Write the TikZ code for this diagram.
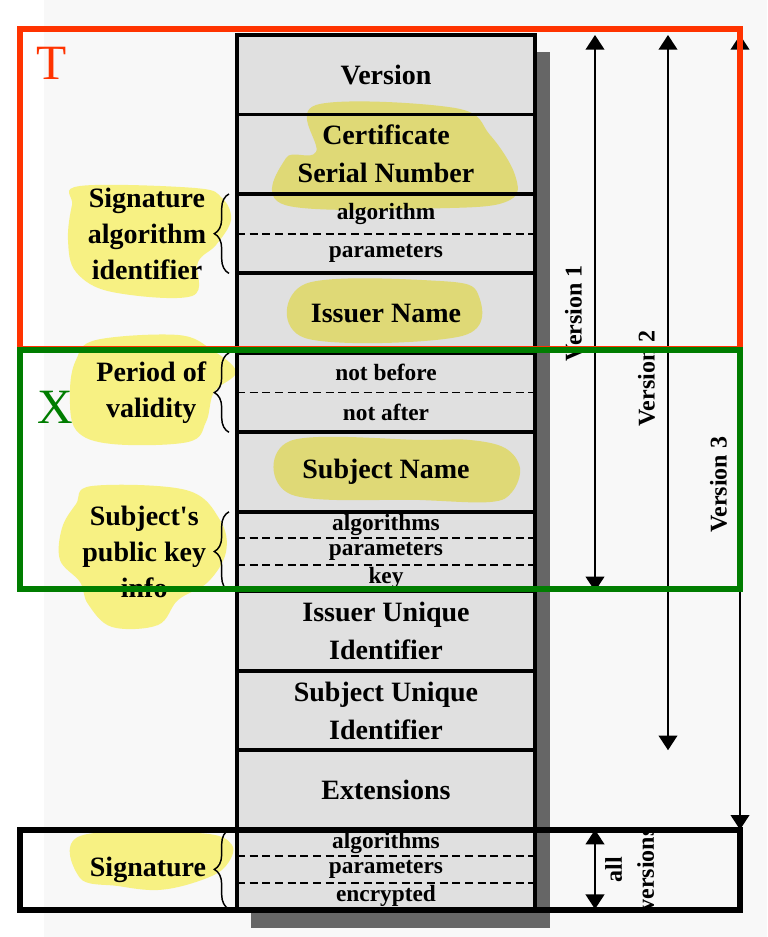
\documentclass[tikz,border=0pt]{standalone}
\usepackage{fontspec}
\setmainfont{Liberation Serif}
\usepackage{tikz}
\usetikzlibrary{arrows.meta, positioning, calc, decorations.pathreplacing}

\definecolor{pagegray}{RGB}{248,248,248}
\definecolor{cellgray}{RGB}{224,224,224}
\definecolor{shadowgray}{RGB}{102,102,102}
\definecolor{hiyellow}{RGB}{254,248,135}
\definecolor{tred}{RGB}{255,51,0}
\definecolor{xgreen}{RGB}{0,125,0}

\begin{document}
\begin{tikzpicture}[x=0.75pt, y=-0.75pt,
  cell/.style={draw, line width=2.9pt, fill=cellgray, minimum width=223.5pt,
    minimum height=59.6pt, inner sep=0pt, outer sep=0pt, align=center,
    font=\fontsize{21}{28.5}\selectfont\bfseries},
  subtxt/.style={inner sep=0pt, font=\fontsize{17.5}{18}\selectfont\bfseries},
  sep/.style={line width=1.3pt, dash pattern=on 6pt off 3.5pt},
  lbl/.style={inner sep=0pt, align=center, font=\fontsize{21}{27}\selectfont\bfseries},
  brc/.style={decorate, decoration={brace, amplitude=11pt}, line width=1.1pt},
  vers/.style={line width=1.4pt, {Triangle[length=11pt,width=14pt]}-{Triangle[length=11pt,width=14pt]}},
  vlab/.style={rotate=90, anchor=south, inner sep=9pt, align=center,
    font=\fontsize{18}{24}\selectfont\bfseries},
  hilite/.style={fill=hiyellow, blend mode=multiply},
  lettr/.style={inner sep=0pt, font=\fontsize{37}{37}\selectfont},
  frame/.style={line width=4.5pt}
]
\useasboundingbox (0,0) rectangle (767,937);
\fill[pagegray] (44,0) rectangle (767,937);   % page
\fill[shadowgray] (251,52) rectangle (550,928); % drop shadow

% Rows of the certificate
\node[cell, anchor=north west] (ver) at (237,35) {Version};
\node[cell, below=0pt of ver] (csn) {Certificate\\Serial Number};
\node[cell, below=0pt of csn] (sa) {};
\node[cell, below=0pt of sa] (iss) {Issuer Name};
\node[cell, below=0pt of iss] (val) {};
\node[cell, below=0pt of val] (sub) {Subject Name};
\node[cell, below=0pt of sub] (pk) {};
\node[cell, below=0pt of pk] (iuid) {Issuer Unique\\Identifier};
\node[cell, below=0pt of iuid] (suid) {Subject Unique\\Identifier};
\node[cell, below=0pt of suid] (ext) {Extensions};
\node[cell, below=0pt of ext] (sig) {};

% Split rows
\node[subtxt] (sa1) at ($(sa.north)!.25!(sa.south)$) {algorithm};
\node[subtxt] (sa2) at ($(sa.north)!.75!(sa.south)$) {parameters};
\draw[sep] (sa.west) -- (sa.east);

\node[subtxt] (val1) at ($(val.north)!.25!(val.south)$) {not before};
\node[subtxt] (val2) at ($(val.north)!.75!(val.south)$) {not after};
\draw[sep] (val.west) -- (val.east);

\node[subtxt] (pk1) at ($(pk.north)!1/6!(pk.south)$) {algorithms};
\node[subtxt] (pk2) at ($(pk.north)!3/6!(pk.south)$) {parameters};
\node[subtxt] (pk3) at ($(pk.north)!5/6!(pk.south)$) {key};
\draw[sep] ($(pk.north west)!1/3!(pk.south west)$) -- ($(pk.north east)!1/3!(pk.south east)$);
\draw[sep] ($(pk.north west)!2/3!(pk.south west)$) -- ($(pk.north east)!2/3!(pk.south east)$);

\node[subtxt] (sig1) at ($(sig.north)!1/6!(sig.south)$) {algorithms};
\node[subtxt] (sig2) at ($(sig.north)!3/6!(sig.south)$) {parameters};
\node[subtxt] (sig3) at ($(sig.north)!5/6!(sig.south)$) {encrypted};
\draw[sep] ($(sig.north west)!1/3!(sig.south west)$) -- ($(sig.north east)!1/3!(sig.south east)$);
\draw[sep] ($(sig.north west)!2/3!(sig.south west)$) -- ($(sig.north east)!2/3!(sig.south east)$);

% Braces and their labels
\draw[brc] ([xshift=-6pt]sa.south west) -- ([xshift=-6pt]sa.north west);
\draw[brc] ([xshift=-6pt]val.south west) -- ([xshift=-6pt]val.north west);
\draw[brc] ([xshift=-6pt]pk.south west) -- ([xshift=-6pt]pk.north west);
\draw[brc] ([xshift=-6pt]sig.south west) -- ([xshift=-6pt]sig.north west);
\coordinate (tsa) at ([xshift=-17pt]sa.west);
\coordinate (tval) at ([xshift=-17pt]val.west);
\coordinate (tpk) at ([xshift=-17pt]pk.west);
\coordinate (tsig) at ([xshift=-17pt]sig.west);
\node[lbl, left=6pt of tsa] (lsa) {Signature\\algorithm\\identifier};
\node[lbl, left=6pt of tval] (lval) {Period of\\validity};
\node[lbl, left=6pt of tpk] (lpk) {Subject\textquotesingle s\\public key\\info};
\node[lbl, left=6pt of tsig] (lsig) {Signature};

% Highlighter marks
\fill[hilite] plot[smooth cycle, tension=.6] coordinates {(316,105) (455,108) (490,135) (515,175) (510,200) (450,208) (285,205) (286,158) (316,152)};
\fill[hilite] plot[smooth cycle, tension=.6] coordinates {(305,284) (440,281) (478,294) (462,336) (305,338)};
\fill[hilite] plot[smooth cycle, tension=.6] coordinates {(290,441) (425,440) (470,440) (505,448) (520,468) (512,492) (490,502) (420,500) (290,494)};
\fill[hilite] plot[smooth cycle, tension=.6] coordinates {(80,186) (195,188) (222,198) (231,220) (216,245) (198,262) (192,296) (112,292) (76,272) (68,240) (72,205)};
\fill[hilite] plot[smooth cycle, tension=.6] coordinates {(96,340) (178,335) (212,350) (236,372) (214,392) (206,422) (188,442) (112,444) (76,430) (70,392) (76,360)};
\fill[hilite] plot[smooth cycle, tension=.6] coordinates {(92,486) (186,490) (220,520) (226,552) (208,582) (178,600) (158,625) (112,627) (88,604) (80,582) (60,560) (62,528) (76,504)};
\fill[hilite] plot[smooth cycle, tension=.6] coordinates {(80,836) (198,833) (232,845) (224,868) (196,882) (158,890) (118,886) (80,878)};

% Version ranges
\coordinate (c1) at (595,0);
\coordinate (c2) at (668,0);
\coordinate (c3) at (740,0);
\draw[vers] (c1 |- ver.north) -- node[vlab, pos=.5] {Version 1} (c1 |- pk.south);
\draw[vers] (c2 |- ver.north) -- node[vlab, pos=.48] {Version 2} (c2 |- suid.south);
\draw[vers] (c3 |- ver.north) -- node[vlab, pos=.566] {Version 3} (c3 |- ext.south);
\draw[vers] (c1 |- sig.north) -- node[vlab, anchor=north, inner sep=7pt] {all\\versions} (c1 |- sig.south);

% Overlay marks
\node[lettr, text=tred] (t) at (52,63) {T};
\node[lettr, text=xgreen] (x) at (55,407) {X};
\draw[frame, draw=tred] (20,29) rectangle (740,349);
\draw[frame, draw=xgreen] (20,350) rectangle (740,589);
\draw[frame] (20,830) rectangle (740,910);
\end{tikzpicture}
\end{document}
